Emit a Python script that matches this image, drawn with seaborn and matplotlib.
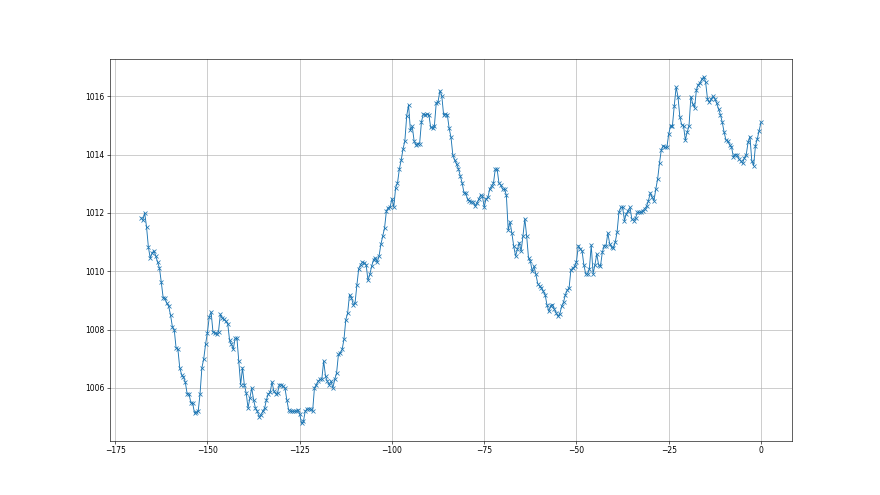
import numpy as np
import matplotlib
matplotlib.use("Agg")
import matplotlib.pyplot as plt
import seaborn as sns

# pressure readings, every half hour over the last week
p_start = [1011.84, 1011.75, 1012.0, 1011.52, 1010.83, 1010.45, 1010.62, 1010.71, 1010.52, 1010.31,
           1010.11, 1009.62, 1009.1, 1009.07, 1008.9, 1008.8, 1008.5, 1008.1, 1008.0, 1007.38,
           1007.32, 1006.69, 1006.46, 1006.37, 1006.2, 1005.8, 1005.8, 1005.5, 1005.47, 1005.14,
           1005.17, 1005.2, 1005.8, 1006.69, 1007.0, 1007.5, 1007.9, 1008.44, 1008.6, 1007.92,
           1007.9, 1007.84, 1007.93, 1008.53, 1008.4, 1008.35, 1008.28, 1008.2, 1007.64, 1007.5,
           1007.32, 1007.7, 1007.7, 1006.92, 1006.11, 1006.69]
p_low = [1006.11, 1005.83, 1005.31, 1005.66, 1006.0, 1005.6, 1005.31, 1005.2, 1005.02,
         1005.08, 1005.2, 1005.31, 1005.6, 1005.8, 1005.85, 1006.2, 1005.89, 1005.8, 1005.83,
         1006.11, 1006.11, 1006.06, 1006.0, 1005.6, 1005.25, 1005.2, 1005.2, 1005.2, 1005.2,
         1005.25, 1005.11, 1004.79, 1004.85, 1005.2, 1005.28, 1005.28, 1005.28, 1005.2, 1006.0,
         1006.11, 1006.23, 1006.29, 1006.31, 1006.92, 1006.4, 1006.23, 1006.11, 1006.23, 1006.0,
         1006.29, 1006.52, 1007.15, 1007.2, 1007.32, 1007.67]
p_rise = [1008.34, 1008.57, 1009.2, 1009.1, 1008.86, 1008.91, 1009.53,
          1010.09, 1010.23, 1010.31, 1010.29, 1010.23, 1009.69, 1009.89, 1010.17, 1010.4, 1010.46,
          1010.31, 1010.52, 1010.92, 1011.21, 1011.49, 1012.07, 1012.18, 1012.2, 1012.49, 1012.2,
          1012.87, 1013.02, 1013.5, 1013.81, 1014.19, 1014.47, 1015.33, 1015.7, 1014.84, 1014.97,
          1014.47, 1014.33, 1014.38, 1014.38, 1015.13, 1015.39, 1015.37, 1015.39, 1015.37, 1014.93,
          1014.9, 1014.99, 1015.77, 1015.82, 1016.19, 1016.02, 1015.36, 1015.39, 1015.37, 1014.9,
          1014.59]
p_fall = [1013.98, 1013.81, 1013.67, 1013.52, 1013.27, 1013.04, 1012.7, 1012.67, 1012.47, 1012.41,
          1012.38, 1012.38, 1012.24, 1012.33, 1012.47, 1012.61, 1012.58, 1012.2, 1012.49, 1012.53,
          1012.83, 1012.93, 1013.02, 1013.5, 1013.5, 1013.02, 1012.95, 1012.81, 1012.81, 1012.61,
          1011.41, 1011.69, 1011.3, 1010.86, 1010.52, 1010.75, 1010.98, 1010.69, 1011.21, 1011.8,
          1011.21, 1010.46, 1010.35, 1010.0, 1010.17, 1009.89, 1009.58, 1009.49, 1009.43, 1009.31,
          1009.2]
p_climb = [1008.85, 1008.63, 1008.8, 1008.86, 1008.7, 1008.57, 1008.45, 1008.55, 1008.8, 1008.95,
           1009.2, 1009.35, 1009.43, 1010.06, 1010.1, 1010.17, 1010.33, 1010.88, 1010.77, 1010.71,
           1010.22, 1009.91, 1009.91, 1010.08, 1010.9, 1009.91, 1010.22, 1010.59, 1010.22, 1010.17,
           1010.65, 1010.88, 1010.88, 1011.31, 1010.94, 1010.82, 1010.79, 1011.0, 1011.34, 1012.02,
           1012.19, 1012.19, 1011.74, 1011.97, 1012.08, 1012.19, 1011.79, 1011.74,
           1011.82, 1012.02, 1012.02, 1012.02, 1012.08, 1012.15, 1012.23, 1012.42, 1012.69, 1012.54,
           1012.42, 1012.82, 1013.17, 1013.72, 1014.17]
p_end = [1014.31, 1014.25, 1014.25, 1014.71, 1014.99, 1014.99, 1015.68, 1016.31, 1015.99, 1015.3,
         1015.03, 1014.99, 1014.5, 1014.77, 1014.99, 1015.99, 1015.74, 1015.6, 1016.22, 1016.4,
         1016.46, 1016.59, 1016.67, 1016.48, 1015.91, 1015.79, 1015.91, 1016.0, 1015.91, 1015.76,
         1015.57, 1015.37, 1015.11, 1014.77, 1014.5, 1014.46, 1014.34, 1014.27, 1013.93, 1014.0,
         1014.0, 1013.85, 1013.79, 1013.7, 1013.89, 1014.0, 1014.42, 1014.62, 1013.79, 1013.62,
         1014.31, 1014.54, 1014.82, 1015.11]

pressure = np.array(p_start + p_low + p_rise + p_fall + p_climb + p_end)
n = len(pressure)
hours = np.arange(n) * 0.5 - (n - 1) * 0.5   # last reading sits at 0

fig, ax = plt.subplots(figsize=(16, 9), dpi=55)
sns.lineplot(x=hours, y=pressure, ax=ax, estimator=None, sort=False,
             marker="x", markersize=6, markeredgewidth=1,
             markeredgecolor="#1f77b4", color="#1f77b4", linewidth=1.2)
ax.grid(True)
ax.set_xlabel("")
ax.set_ylabel("")

plt.savefig("out.png", dpi=55)
